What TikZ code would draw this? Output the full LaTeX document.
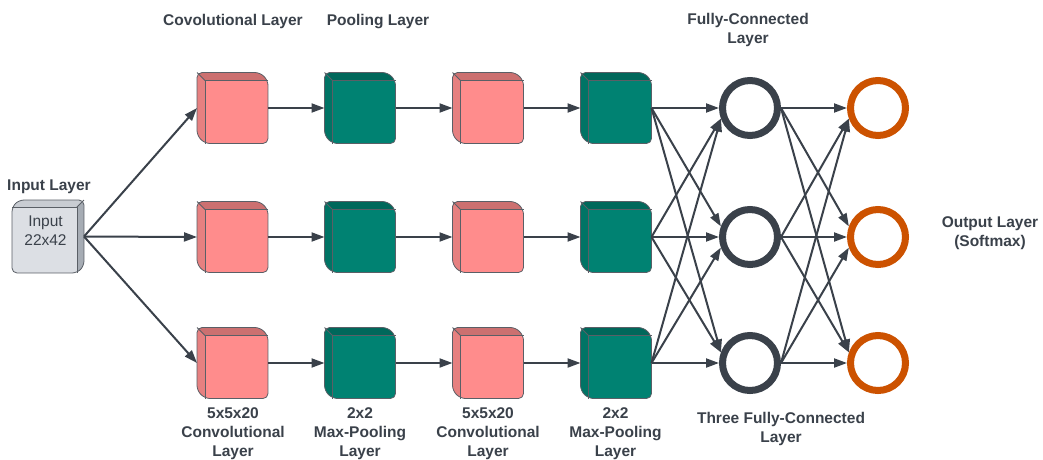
\documentclass[tikz,border=0pt]{standalone}
\usepackage{fontspec}
\setmainfont{Liberation Sans}
\usetikzlibrary{arrows.meta,calc}
\definecolor{txt}{HTML}{3A414A}
\definecolor{edgec}{HTML}{5A5F66}
\definecolor{convF}{HTML}{FF8C8C}
\definecolor{convT}{HTML}{CC7070}
\definecolor{convS}{HTML}{E68080}
\definecolor{poolF}{HTML}{008272}
\definecolor{poolT}{HTML}{00685B}
\definecolor{poolS}{HTML}{007465}
\definecolor{inF}{HTML}{DCDFE4}
\definecolor{inT}{HTML}{C8CCD2}
\definecolor{inS}{HTML}{A6ACB4}
\definecolor{orangec}{HTML}{CC5200}
\tikzset{
  cubenode/.style={rectangle, minimum width=71pt, minimum height=71pt, inner sep=0pt, outer sep=0pt},
  edge/.style={draw=edgec, line width=0.8pt, line join=round},
  arr/.style={draw=txt, line width=2pt, -{Triangle[length=13pt,width=9pt]}},
  lbl/.style={text=txt, font=\fontsize{15.5}{19}\selectfont\bfseries, align=center, inner sep=0pt},
  fcc/.style={circle, draw=txt, line width=7pt, minimum size=55pt, inner sep=0pt},
  outc/.style={circle, draw=orangec, line width=7pt, minimum size=55pt, inner sep=0pt},
}
\newcommand\lcube[4]{%
  \node[cubenode] (#1) at (#2,#3) {};
  \begin{scope}
    \clip[rounded corners=5pt] (#1.north west) -- ([xshift=-8pt]#1.north east) -- ([yshift=-8pt]#1.north east) -- (#1.south east) -- ([xshift=8pt]#1.south west) -- ([yshift=8pt]#1.south west) -- cycle;
    \fill[#4F] (#1.north west) rectangle (#1.south east);
    \fill[#4T] (#1.north west) -- ([xshift=-8pt]#1.north east) -- ([yshift=-8pt]#1.north east) -- ([shift={(8pt,-8pt)}]#1.north west) -- cycle;
    \fill[#4S] (#1.north west) -- ([shift={(8pt,-8pt)}]#1.north west) -- ([xshift=8pt]#1.south west) -- ([yshift=8pt]#1.south west) -- cycle;
  \end{scope}
  \draw[edge, rounded corners=5pt] (#1.north west) -- ([xshift=-8pt]#1.north east) -- ([yshift=-8pt]#1.north east) -- (#1.south east) -- ([xshift=8pt]#1.south west) -- ([yshift=8pt]#1.south west) -- cycle;
  \draw[edge] ([yshift=-8pt]#1.north east) -- ([shift={(8pt,-8pt)}]#1.north west) -- ([xshift=8pt]#1.south west);
  \draw[edge] (#1.north west) -- ([shift={(8pt,-8pt)}]#1.north west);
}
\begin{document}
\begin{tikzpicture}[x=1pt, y=-1pt]
\fill[white] (0,0) rectangle (1043,459);
\useasboundingbox (0,0) rectangle (1043,459);

% input cube (depth on top-right)
\node[rectangle, minimum width=72pt, minimum height=73pt, inner sep=0pt, outer sep=0pt] (in) at (48,236.5) {};
\begin{scope}
  \clip[rounded corners=5pt] ([xshift=7pt]in.north west) -- (in.north east) -- ([yshift=7pt]in.south east) -- ([xshift=-7pt]in.south east) -- (in.south west) -- ([yshift=-7pt]in.north west) -- cycle;
  \fill[inF] (in.north west) rectangle (in.south east);
  \fill[inT] ([xshift=7pt]in.north west) -- (in.north east) -- ([shift={(-7pt,-7pt)}]in.north east) -- ([yshift=-7pt]in.north west) -- cycle;
  \fill[inS] (in.north east) -- ([yshift=7pt]in.south east) -- ([xshift=-7pt]in.south east) -- ([shift={(-7pt,-7pt)}]in.north east) -- cycle;
\end{scope}
\draw[edge, rounded corners=5pt] ([xshift=7pt]in.north west) -- (in.north east) -- ([yshift=7pt]in.south east) -- ([xshift=-7pt]in.south east) -- (in.south west) -- ([yshift=-7pt]in.north west) -- cycle;
\draw[edge] ([yshift=-7pt]in.north west) -- ([shift={(-7pt,-7pt)}]in.north east) -- ([xshift=-7pt]in.south east);
\draw[edge] (in.north east) -- ([shift={(-7pt,-7pt)}]in.north east);
\node[text=txt, font=\fontsize{15.5}{19}\selectfont, align=center, inner sep=0pt] (intext) at (45.5,231) {Input\\22x42};

% cubes
\foreach \r/\y in {a/108, b/237, c/363} {
  \lcube{c1\r}{232.5}{\y}{conv}
  \lcube{p1\r}{360}{\y}{pool}
  \lcube{c2\r}{488}{\y}{conv}
  \lcube{p2\r}{616}{\y}{pool}
  \node[fcc] (f\r) at (750,\y) {};
  \node[outc] (o\r) at (878,\y) {};
}

% arrows
\foreach \r in {a,b,c} {
  \draw[arr] (in.east) -- (c1\r.west);
  \draw[arr] (c1\r.east) -- (p1\r.west);
  \draw[arr] (p1\r.east) -- (c2\r.west);
  \draw[arr] (c2\r.east) -- (p2\r.west);
}
\foreach \s/\t/\a in {a/a/180, a/b/160, a/c/160, b/a/200, b/b/180, b/c/160, c/a/200, c/b/200, c/c/180} {
  \draw[arr] (p2\s.east) -- (f\t.\a);
  \draw[arr] (f\s.east) -- (o\t.\a);
}

% labels
\node[lbl] (tconv) at (233,21.5) {Covolutional Layer};
\node[lbl] (tpool) at (378,21.5) {Pooling Layer};
\node[lbl] (tfc) at (748,29.5) {Fully-Connected\\Layer};
\node[lbl] (tin) at (49,186.5) {Input Layer};
\node[lbl] (tout) at (990,233.5) {Output Layer\\(Softmax)};
\node[lbl] (bc1) at (233,434) {5x5x20\\Convolutional\\Layer};
\node[lbl] (bp1) at (360,434) {2x2\\Max-Pooling\\Layer};
\node[lbl] (bc2) at (488,434) {5x5x20\\Convolutional\\Layer};
\node[lbl] (bp2) at (615.5,434) {2x2\\Max-Pooling\\Layer};
\node[lbl] (tthree) at (781,429) {Three Fully-Connected\\Layer};
\end{tikzpicture}
\end{document}
